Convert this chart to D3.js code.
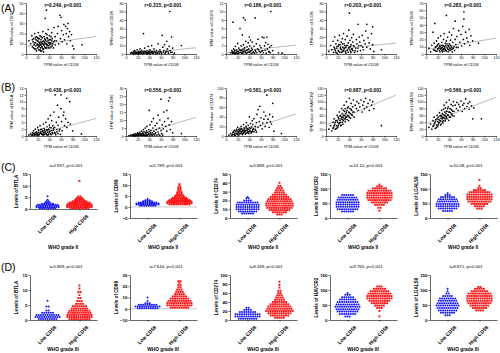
<!DOCTYPE html>
<html>
<head>
<meta charset="utf-8">
<script src="https://cdn.jsdelivr.net/npm/d3@7"></script>
<style>
body { margin: 0; background: #fff; }
svg { display: block; font-family: "Liberation Sans", Arial, sans-serif; }
</style>
</head>
<body>
<svg id="fig" width="500" height="353"></svg>
<script>
// ---- scatter data, rows A and B : [TPM CD58, TPM gene]
const xTicks = [0, 20, 40, 60, 80, 100, 120]

const a1Pts = [[5,13],[8,10],[10,18],[11,7],[12,12],[13,15],[14,9],[15,5],[15,20],[16,11],[17,8],[17,14],[18,3],[18,17],[19,10],[20,6],[20,13],[21,9],[21,21],[22,12],[22,4],[23,15],[23,8],[24,10],[24,18],[25,6],[25,12],[26,9],[26,14],[27,3],[27,11],[28,16],[28,7],[29,10],[29,22],[30,13],[30,5],[31,9],[31,17],[32,11],[32,7],[33,14],[33,35],[34,10],[34,20],[35,43],[35,6],[36,12],[36,16],[37,9],[38,13],[38,24],[39,8],[40,11],[40,18],[41,6],[42,14],[43,10],[44,21],[45,8],[45,15],[47,12],[48,26],[50,9],[50,17],[52,13],[54,20],[55,27],[56,10],[58,38],[59,15],[60,36],[61,23],[62,12],[64,19],[65,29],[66,14],[68,27],[69,20],[70,10],[71,25],[72,30],[73,17],[75,22],[76,13],[78,19],[80,8],[96,9],[82,5],
  [11,14],[13,6],[14,11],[16,16],[17,5],[19,13],[20,9],[21,15],[22,7],[23,11],[24,4],[25,9],[26,17],[27,7],[28,12],[29,5],[30,9],[31,12],[32,15],[33,6],[34,13],[35,10],[36,8],[37,15],[38,6],[39,11],[40,14],[41,9],[42,11],[43,7],[44,13],[46,10],[47,6],[49,13],[25,3],[30,2],[20,16],[36,19],[43,17]]
const a2Pts = [[8,1],[10,2],[12,0.5],[13,3],[14,1.5],[15,4],[16,0.8],[17,2.5],[18,1],[19,5],[20,2],[21,0.5],[22,3],[23,1.5],[24,6],[25,2],[26,1],[27,4],[28,0.5],[29,2.5],[30,24],[30,1],[31,3.5],[32,7],[33,1.5],[34,2.5],[35,0.5],[36,4],[37,2],[38,9],[39,1],[40,3],[41,5],[42,1.5],[43,2],[44,10],[45,0.8],[46,3],[48,6],[50,2],[52,4],[54,1],[55,12],[56,3],[58,5],[60,2],[62,22],[63,8],[65,4],[66,11],[68,2],[70,15],[71,6],[72,3],[74,9],[75,50],[76,4],[78,20],[79,2],[80,7],[95,10],[83,1],
  [11,1],[13,0.3],[15,2],[17,0.5],[19,1.5],[21,2.5],[23,0.3],[25,3],[27,1],[29,0.3],[31,1.5],[33,3],[35,2],[37,0.3],[39,3],[41,0.8],[43,3.5],[45,2],[47,1],[49,3],[51,0.5],[53,2],[57,1],[59,3],[61,1],[64,2],[67,0.5],[69,3],[73,1],[77,2]]
const a3Pts = [[8,0.3],[10,0.8],[11,0.2],[12,7.5],[13,1.2],[14,0.5],[15,0.1],[16,1.8],[17,0.4],[18,1],[19,0.2],[20,2.5],[21,0.6],[22,1.4],[23,0.3],[24,6],[25,0.9],[26,1.9],[27,0.2],[28,4.5],[28,1.1],[29,0.5],[30,8.5],[30,2.2],[31,0.7],[32,1.5],[33,8],[33,0.3],[34,3],[35,0.9],[36,1.7],[37,0.4],[38,2.6],[39,1.2],[40,4],[40,0.5],[41,1.9],[42,3.3],[43,0.8],[44,1.4],[45,2.8],[46,0.3],[48,1.8],[50,8.5],[50,0.9],[52,2.4],[54,1.2],[55,3.5],[57,0.6],[58,2],[60,1.5],[62,4],[63,0.8],[65,3.8],[66,1.9],[68,2.7],[70,4],[71,1.2],[72,2.3],[74,0.5],[75,1.6],[77,10],[78,2],[80,0.8],[90,0.3],[96,0.2],
  [11,0.5],[13,0.2],[15,0.9],[17,0.1],[19,0.7],[21,0.2],[23,1],[25,0.4],[27,0.8],[29,0.2],[31,1.2],[33,0.6],[35,0.2],[37,1],[39,0.4],[41,0.6],[43,0.2],[45,1],[47,0.5],[49,0.2],[51,0.6],[53,0.3],[56,1],[59,0.4],[61,0.7],[64,0.3],[67,0.9],[69,0.2],[73,0.6],[76,0.3]]
const a4Pts = [[5,3],[8,10],[10,5],[12,15],[13,2],[14,8],[15,20],[16,4],[17,12],[18,7],[19,1],[20,16],[21,9],[22,3],[23,22],[24,11],[25,6],[26,14],[27,2],[28,18],[29,8],[30,24],[30,4],[31,12],[32,7],[33,17],[34,1],[35,10],[36,21],[37,5],[38,13],[39,28],[40,48],[40,8],[41,16],[42,3],[43,11],[44,19],[45,6],[46,14],[47,23],[48,9],[50,4],[52,17],[53,12],[55,35],[55,7],[57,20],[58,14],[60,10],[62,22],[64,5],[65,16],[67,12],[68,27],[70,35],[70,8],[72,19],[74,13],[76,6],[78,24],[80,32],[80,11],[82,3],[95,5],
  [15,6],[17,2],[19,9],[21,4],[22,11],[24,2],[25,8],[27,5],[28,12],[29,3],[31,6],[32,10],[33,3],[34,8],[36,4],[37,10],[38,2],[39,7],[41,5],[42,9],[43,2],[44,6],[46,4],[47,10],[49,2],[51,7],[54,3],[56,10],[59,4],[63,8]]
const a5Pts = [[5,8],[8,3],[10,12],[12,30],[13,6],[14,15],[15,42],[16,9],[17,4],[18,18],[19,11],[20,7],[21,22],[22,14],[23,5],[24,10],[25,25],[26,8],[27,16],[28,3],[29,12],[30,20],[30,7],[31,28],[32,10],[33,15],[34,5],[35,53],[35,18],[36,9],[37,23],[38,12],[39,6],[40,30],[40,14],[41,8],[42,19],[43,11],[44,26],[45,7],[46,16],[47,35],[48,10],[50,45],[50,20],[51,13],[53,24],[55,9],[56,32],[58,16],[60,27],[61,11],[63,38],[64,20],[65,58],[65,48],[66,14],[68,30],[70,22],[72,17],[74,34],[75,12],[77,25],[80,18],[90,15],
  [15,5],[17,10],[19,4],[20,13],[22,8],[23,11],[24,3],[25,7],[26,12],[27,5],[28,9],[29,6],[30,11],[31,4],[32,8],[33,6],[34,12],[35,4],[36,14],[37,7],[38,3],[39,10],[41,5],[42,12],[43,6],[44,9],[45,3],[47,8],[49,5],[52,9]]
const b1Pts = [[5,0.3],[8,0.6],[10,0.2],[11,1],[12,0.5],[13,1.5],[14,0.3],[15,0.8],[16,2],[17,0.4],[18,1.2],[19,0.7],[20,2.5],[20,0.2],[21,1],[22,1.6],[23,0.5],[24,3],[25,1.2],[26,0.8],[27,2],[28,0.4],[29,1.5],[30,3.5],[30,0.9],[31,2.2],[32,0.5],[33,1.3],[34,4],[35,1.8],[35,0.6],[36,2.7],[37,1.1],[38,5],[38,0.3],[39,2],[40,3.2],[41,1.4],[42,6],[42,0.7],[43,2.4],[44,4.5],[45,1],[46,3],[47,1.7],[48,7],[49,2.5],[50,12],[50,0.8],[52,4],[53,1.9],[54,9],[55,3.1],[56,5.5],[58,2],[60,12],[60,8],[61,4.2],[62,1.5],[64,6],[65,7],[66,3],[68,5],[70,11],[70,2.5],[72,4],[75,10],[76,3.5],[80,1.5],[95,0.6],
  [11,0.3],[13,0.8],[15,0.2],[17,1],[19,0.4],[21,1.8],[22,0.3],[24,0.9],[25,1.9],[27,0.6],[28,1.4],[30,0.3],[31,1.1],[32,1.8],[34,0.8],[36,0.3],[37,1.7],[39,0.6],[40,1.2],[41,2.5],[43,0.4],[44,1.6],[46,0.7],[47,2.2],[49,1.1],[51,0.4],[53,1.2],[55,0.7],[57,1.5],[59,0.5]]
const b2Pts = [[5,0.2],[8,0.5],[10,0.3],[12,0.8],[13,0.2],[14,1.2],[15,0.5],[16,0.1],[17,1.5],[18,0.7],[19,0.3],[20,2],[21,0.9],[22,0.4],[23,1.6],[24,2.5],[25,0.6],[26,1.2],[27,3],[28,0.5],[29,1.9],[30,4],[30,1],[31,2.6],[32,0.7],[33,5],[34,1.5],[35,3.2],[35,0.4],[36,6],[37,2.2],[38,1],[39,4],[40,16],[40,2.8],[41,7],[42,1.3],[43,3.6],[44,9],[45,2],[46,5],[47,11],[48,3],[50,6.5],[50,1.5],[52,4],[53,8],[55,13],[55,2.5],[57,5],[58,10],[60,23],[60,3.5],[62,7],[64,4.5],[65,15],[66,9],[68,6],[70,16],[70,3],[72,11],[73,22],[74,7],[75,24],[76,4],[78,9],[80,2],[95,1.5],
  [11,0.2],[13,0.6],[15,0.1],[17,0.4],[19,1],[21,0.3],[22,1.5],[24,0.4],[25,1.1],[27,0.2],[28,1.3],[30,0.3],[31,0.9],[33,0.2],[34,2.2],[36,0.7],[37,0.2],[39,1.4],[41,0.5],[42,2.1],[44,0.9],[45,0.3],[47,1.2],[49,0.5],[51,2],[53,0.6],[56,1],[58,0.4],[61,1.5],[63,0.6]]
const b3Pts = [[5,2],[8,5],[10,1],[12,8],[13,3],[14,12],[15,5],[16,1],[17,9],[18,14],[19,4],[20,18],[21,7],[22,2],[23,11],[24,16],[25,5],[26,20],[27,9],[28,3],[29,13],[30,24],[30,7],[31,17],[32,10],[33,4],[34,20],[35,28],[35,12],[36,6],[37,15],[38,22],[39,9],[40,40],[40,17],[41,12],[42,26],[43,6],[44,19],[45,32],[45,10],[46,24],[47,15],[48,36],[50,20],[51,12],[52,28],[53,45],[55,55],[55,18],[57,30],[58,62],[59,22],[60,38],[62,15],[63,27],[65,50],[65,35],[67,20],[68,42],[70,85],[70,28],[72,35],[74,18],[75,45],[76,30],[78,25],[80,68],[80,40],[82,10],[95,5],
  [11,4],[13,8],[15,2],[16,10],[18,5],[19,12],[20,3],[21,9],[22,14],[23,5],[24,10],[25,13],[26,6],[27,15],[28,10],[29,5],[30,12],[31,8],[32,15],[33,11],[34,6],[35,17],[36,11],[37,8],[38,14],[39,5],[41,9],[42,16],[44,8],[46,13],[48,9],[50,14],[52,8]]
const b4Pts = [[5,20],[8,30],[10,15],[12,40],[13,25],[14,50],[15,35],[16,20],[17,45],[18,30],[19,60],[20,40],[20,25],[21,55],[22,35],[23,70],[24,45],[25,30],[25,60],[26,50],[27,80],[28,40],[28,65],[29,55],[30,75],[30,45],[31,90],[32,60],[33,50],[33,80],[34,65],[35,100],[35,55],[36,75],[37,60],[38,85],[39,70],[40,110],[40,55],[41,80],[42,65],[43,95],[44,75],[45,60],[46,85],[47,105],[48,70],[50,90],[52,80],[53,100],[55,75],[56,95],[58,85],[60,105],[62,70],[63,90],[65,100],[66,80],[68,110],[70,85],[72,95],[74,75],[75,105],[78,90],[80,100],[82,80],[95,30],
  [12,22],[14,30],[16,40],[18,22],[19,45],[21,30],[22,50],[23,38],[24,58],[25,40],[26,32],[27,55],[28,48],[29,35],[30,60],[31,50],[32,72],[33,42],[34,55],[35,70],[36,48],[37,82],[38,58],[39,45],[40,68],[42,52],[43,78],[44,62],[46,70],[48,55]]
const b5Pts = [[5,25],[8,35],[10,20],[12,45],[13,30],[14,55],[15,38],[16,22],[17,48],[18,32],[19,60],[20,42],[20,28],[21,55],[22,38],[23,68],[24,46],[25,32],[25,60],[26,52],[27,75],[28,42],[28,65],[29,55],[30,78],[30,45],[31,90],[32,60],[33,50],[33,82],[34,66],[35,98],[35,55],[36,72],[37,62],[38,85],[39,70],[40,105],[40,55],[41,80],[42,68],[43,92],[44,76],[45,60],[46,88],[47,100],[48,72],[50,90],[52,80],[53,98],[55,75],[56,92],[58,85],[60,102],[62,72],[63,90],[65,95],[66,80],[68,108],[70,86],[72,95],[74,78],[75,100],[78,88],[80,50],[82,82],[95,50],
  [12,28],[14,35],[16,42],[18,25],[19,50],[21,33],[22,48],[23,40],[24,58],[25,44],[26,35],[27,58],[28,50],[29,38],[30,62],[31,52],[32,70],[33,44],[34,58],[35,72],[36,50],[37,80],[38,60],[39,46],[40,70],[42,55],[43,78],[44,64],[46,72],[48,58]]

// regression lines [intercept, slope]
const fitsA = [[7.5, 0.08], [-1, 0.07], [0.3, 0.015], [4.5, 0.07], [6, 0.13]]
const fitsB = [[-0.3, 0.045], [-1.5, 0.11], [-2, 0.4], [32, 0.73], [35, 0.65]]

const genesA = ["CD27", "CD28", "CD276", "ICOS", "CD40"]
const genesB = ["BTLA", "CD86", "CD274", "HAVCR2", "LGALS9"]
const rTitlesA = ["r=0.249, p<0.001", "r=0.315, p<0.001", "r=0.186, p<0.001", "r=0.203, p<0.001", "r=0.283, p<0.001"]
const rTitlesB = ["r=0.438, p<0.001", "r=0.556, p<0.001", "r=0.581, p<0.001", "r=0.687, p<0.001", "r=0.566, p<0.001"]
const yTicksA = [[0,10,20,30,40,50], [0,10,20,30,40,50,60], [0,2,4,6,8,10,12], [0,10,20,30,40,50,60], [0,10,20,30,40,50,60,70]]
const yTicksB = [[0,2,4,6,8,10,12,14], [0,5,10,15,20,25,30], [0,20,40,60,80,100], [0,20,40,60,80,100,120,140], [0,20,40,60,80,100,120,140]]

// ---- column scatter data, rows C and D : [level, number of samples at that level]
const groups = ["Low CD58", "High CD58"]

const c1Low = [[0.3,8],[0.8,11],[1.3,11],[1.8,10],[2.3,6],[2.8,3],[3.3,2],[4,1],[5.5,1]]
const c1High = [[0.3,9],[0.8,12],[1.3,12],[1.8,12],[2.3,11],[2.8,10],[3.3,7],[3.8,5],[4.3,4],[4.8,3],[5.4,2],[12,1]]
const c2Low = [[0.6,8],[1.1,11],[1.6,11],[2.1,9],[2.6,5],[3.1,3],[3.6,1]]
const c2High = [[1.2,10],[1.7,12],[2.2,12],[2.7,11],[3.2,10],[3.7,8],[4.2,7],[4.8,5],[5.4,4],[6,3],[6.7,3],[7.4,2],[8.2,2],[9,2],[9.8,1],[10.4,1]]
const c3Low = [[5,6],[7.5,9],[10,11],[12.5,11],[15,11],[17.5,10],[20,4],[22.5,2],[24,1]]
const c3High = [[4,3],[6.5,7],[9,10],[11.5,12],[14,13],[16.5,13],[19,12],[21.5,11],[24,9],[26.5,7],[29,5],[31.5,4],[34,3],[36.5,2],[40,1]]
const c4Low = [[22,6],[30,10],[38,11],[46,11],[54,11],[62,10],[70,9],[78,6]]
const c4High = [[25,1],[35,2],[45,5],[53,8],[61,11],[69,12],[77,12],[85,12],[93,11],[101,7],[108,3],[114,1]]
const c5Low = [[24,5],[32,9],[40,11],[48,11],[56,10],[64,9],[72,7],[78,3],[84,1]]
const c5High = [[32,3],[40,5],[48,8],[56,11],[64,12],[72,12],[80,12],[88,10],[95,6],[102,2],[110,1],[130,1]]

const d1Low = [[0.3,9],[1.0,12],[1.7,11],[2.4,6],[3.2,2],[4.5,2],[6.4,1]]
const d1High = [[0.3,10],[1.0,12],[1.7,12],[2.4,11],[3.1,10],[3.8,8],[4.6,7],[5.4,4],[6.3,3],[7.3,2],[8.3,1],[9.3,2],[10.5,1],[11.5,1]]
const d2Low = [[0.5,10],[2,12],[3.5,9],[5,3],[7,1],[10,1]]
const d2High = [[1,9],[3,12],[5,12],[7,11],[9,9],[11,7],[13,5],[15,4],[17,3],[19,2],[21,2],[23,1],[24.5,2]]
const d3Low = [[3,9],[8,12],[13,12],[18,8],[23,4],[27,2]]
const d3High = [[5,5],[10,9],[15,11],[20,13],[25,12],[30,11],[35,9],[40,7],[45,5],[50,4],[55,3],[60,2],[65,2],[72,1],[78,1],[85,1]]
const d4Low = [[12,3],[20,8],[28,10],[36,11],[44,12],[52,11],[60,10],[68,8],[76,6],[84,3],[90,1]]
const d4High = [[12,1],[30,1],[40,3],[48,5],[56,8],[64,10],[72,12],[80,12],[88,11],[96,9],[104,6],[112,3]]
const d5Low = [[16,3],[24,7],[32,9],[40,10],[48,11],[56,10],[64,9],[72,8],[80,5],[88,2],[96,1],[104,1]]
const d5High = [[32,4],[40,7],[48,9],[56,11],[64,12],[72,12],[80,12],[88,11],[96,8],[104,5],[110,2]]

const tTitlesC = ["t=4.937, p<0.001", "t=5.789, p<0.001", "t=5.889, p<0.001", "t=14.10, p<0.001", "t=10.08, p<0.001"]
const tTitlesD = ["t=5.869, p<0.001", "t=7.644, p<0.001", "t=8.349, p<0.001", "t=9.765, p<0.001", "t=8.871, p<0.001"]
const yTicksC = [[0,5,10,15], [-5,0,5,10,15], [0,10,20,30,40,50], [0,50,100,150], [0,50,100,150]]
const yTicksD = [[0,5,10,15], [-10,0,10,20,30], [0,20,40,60,80,100], [0,50,100,150], [0,50,100,150]]

let svg = d3.select("#fig")

const styleAxis = (g, size, weight) => {
    g.attr("font-size", size).attr("font-family", null).attr("font-weight", weight)
    g.selectAll("path, line").attr("stroke", "#000").attr("stroke-width", 0.6)
    g.selectAll("text").attr("fill", "#000")
}

// ---------- scatter panel
const drawScatter = (i, pts, fit, gene, title, yTicks, top, bottom) => {
    let left = 26 + 100 * i
    let x = d3.scaleLinear().domain([0, 120]).range([left, left + 70])
    let y = d3.scaleLinear().domain([yTicks[0], yTicks[yTicks.length - 1]]).range([bottom, top])
    let g = svg.append("g")

    g.append("g")
        .attr("transform", "translate(0," + bottom + ")")
        .call(d3.axisBottom(x).tickValues(xTicks).tickSize(1.5).tickPadding(1).tickSizeOuter(0))
        .call(a => styleAxis(a, 3.6, "normal"))

    g.append("g")
        .attr("transform", "translate(" + left + ",0)")
        .call(d3.axisLeft(y).tickValues(yTicks).tickSize(1.5).tickPadding(1).tickSizeOuter(0))
        .call(a => styleAxis(a, 3.6, "normal"))

    let clipId = "clip" + top + "_" + i
    g.append("clipPath").attr("id", clipId)
        .append("rect").attr("x", left).attr("y", top).attr("width", 70).attr("height", bottom - top)

    g.append("line")
        .attr("clip-path", "url(#" + clipId + ")")
        .attr("x1", x(0)).attr("y1", y(fit[0]))
        .attr("x2", x(120)).attr("y2", y(fit[0] + fit[1] * 120))
        .attr("stroke", "#aaa").attr("stroke-width", 0.8)

    g.selectAll(".pt")
        .data(pts)
        .enter()
        .append("circle")
        .attr("cx", (d) => { return x(d[0]) })
        .attr("cy", (d) => { return y(d[1]) })
        .attr("r", 0.85)
        .attr("fill", "#000")

    g.append("text")
        .text(title)
        .attr("x", left + 37).attr("y", top + 4)
        .attr("text-anchor", "middle")
        .attr("font-size", 4.8).attr("font-weight", "bold")

    g.append("text")
        .text("TPM value of CD58")
        .attr("x", left + 35).attr("y", bottom + 12)
        .attr("text-anchor", "middle")
        .attr("font-size", 4)

    g.append("text")
        .text("TPM value of " + gene)
        .attr("transform", "translate(" + (left - 13) + "," + ((top + bottom) / 2) + ") rotate(-90)")
        .attr("text-anchor", "middle")
        .attr("font-size", 4)
}

// ---------- column scatter panel
const drawSwarm = (i, low, high, gene, title, yTicks, titleY, top, bottom, grade, gradeY) => {
    let left = 30 + 100 * i
    let x = d3.scalePoint().domain(groups).range([left, left + 67]).padding(0.55)
    let y = d3.scaleLinear().domain([yTicks[0], yTicks[yTicks.length - 1]]).range([bottom, top])
    let g = svg.append("g")

    if (yTicks[0] < 0) {
        g.append("line")
            .attr("x1", left).attr("x2", left + 67)
            .attr("y1", y(0)).attr("y2", y(0))
            .attr("stroke", "#c8c8c8").attr("stroke-width", 1.2)
    }

    let xa = g.append("g")
        .attr("transform", "translate(0," + bottom + ")")
        .call(d3.axisBottom(x).tickSize(1.5).tickSizeOuter(0))
        .call(a => styleAxis(a, 5, "bold"))
    xa.selectAll("text")
        .attr("text-anchor", "end")
        .attr("transform", "translate(3,2) rotate(-45)")

    g.append("g")
        .attr("transform", "translate(" + left + ",0)")
        .call(d3.axisLeft(y).tickValues(yTicks).tickSize(1.5).tickPadding(1).tickSizeOuter(0))
        .call(a => styleAxis(a, 4.4, "bold"))

    let pts = []
    ;[[groups[0], low], [groups[1], high]].forEach(([grp, bins]) => {
        bins.forEach(([v, n]) => {
            for (let k = 0; k < n; k++) pts.push({ grp: grp, v: v, off: (k - (n - 1) / 2) * 2.2 })
        })
    })

    g.selectAll(".dot")
        .data(pts.filter(d => d.grp === groups[0]))
        .enter()
        .append("circle")
        .attr("cx", d => x(d.grp) + d.off)
        .attr("cy", d => y(d.v))
        .attr("r", 1)
        .attr("fill", "#1414ff")

    g.selectAll(".sq")
        .data(pts.filter(d => d.grp === groups[1]))
        .enter()
        .append("rect")
        .attr("x", d => x(d.grp) + d.off - 0.95)
        .attr("y", d => y(d.v) - 0.95)
        .attr("width", 1.9).attr("height", 1.9)
        .attr("fill", "#ff1010")

    g.append("text")
        .text(title)
        .attr("x", left + 36).attr("y", titleY)
        .attr("text-anchor", "middle")
        .attr("font-size", 4.4)

    g.append("text")
        .text("Levels of " + gene)
        .attr("transform", "translate(" + (left - 12) + "," + ((top + bottom) / 2) + ") rotate(-90)")
        .attr("text-anchor", "middle")
        .attr("font-size", 4.6).attr("font-weight", "bold")

    g.append("text")
        .text(grade)
        .attr("x", left + 33).attr("y", gradeY)
        .attr("text-anchor", "middle")
        .attr("font-size", 4.8).attr("font-weight", "bold")
}

let ptsA = [a1Pts, a2Pts, a3Pts, a4Pts, a5Pts]
let ptsB = [b1Pts, b2Pts, b3Pts, b4Pts, b5Pts]
genesA.forEach((gname, i) => drawScatter(i, ptsA[i], fitsA[i], gname, rTitlesA[i], yTicksA[i], 3, 54))
genesB.forEach((gname, i) => drawScatter(i, ptsB[i], fitsB[i], gname, rTitlesB[i], yTicksB[i], 88, 136))

let lowC = [c1Low, c2Low, c3Low, c4Low, c5Low], highC = [c1High, c2High, c3High, c4High, c5High]
let lowD = [d1Low, d2Low, d3Low, d4Low, d5Low], highD = [d1High, d2High, d3High, d4High, d5High]
genesB.forEach((gname, i) => drawSwarm(i, lowC[i], highC[i], gname, tTitlesC[i], yTicksC[i], 167, 174, i === 0 ? 209 : 218, "WHO grade II", 249))
genesB.forEach((gname, i) => drawSwarm(i, lowD[i], highD[i], gname, tTitlesD[i], yTicksD[i], 268, 275, 320, "WHO grade III", 351))

// panel letters
;[["(A)", 12], ["(B)", 91], ["(C)", 171], ["(D)", 271]].forEach(([t, yy]) => {
    svg.append("text").text(t).attr("x", 1).attr("y", yy).attr("font-size", 10.5)
})
</script>
</body>
</html>
